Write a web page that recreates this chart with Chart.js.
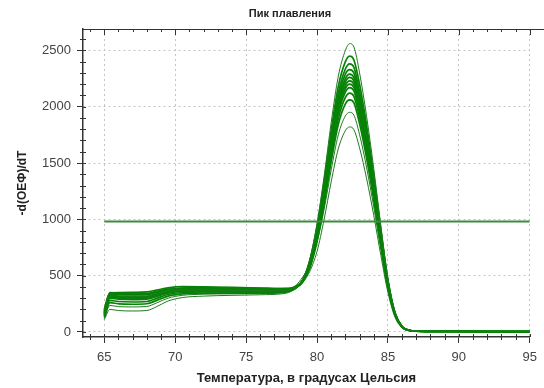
<!DOCTYPE html>
<html>
<head>
<meta charset="utf-8">
<script src="https://cdn.jsdelivr.net/npm/chart.js@4"></script>
<style>
html,body{margin:0;padding:0;background:#fff;}
#wrap{width:544px;height:388px;}
</style>
</head>
<body>
<div id="wrap"><canvas id="c" width="544" height="388"></canvas></div>
<script>
// ---- data ----
const chartTitle = 'Пик плавления';
const xTitle = 'Температура, в градусах Цельсия';
const yTitle = '-d(ОЕФ)/dT';
const xTickValues = [65, 70, 75, 80, 85, 90, 95];
const yTickValues = [0, 500, 1000, 1500, 2000, 2500];

const temps = [65, 65.4, 66, 67, 68, 68.7, 69.5, 70.5, 72, 74, 76, 77.5, 78, 78.5, 79, 79.5, 80, 80.5, 81, 81.5, 82, 82.3, 82.6, 83, 83.5, 84, 84.5, 85, 85.5, 86, 86.5, 87, 89, 92, 95];

const curve01 = [170, 330, 320, 315, 318, 340, 362, 372, 372, 368, 366, 368, 372, 395, 470, 650, 960, 1380, 1860, 2270, 2500, 2560, 2530, 2300, 1910, 1450, 940, 470, 170, 48, 16, 9, 6, 4, 4];
const curve02 = [200, 350, 345, 340, 342, 360, 378, 385, 382, 378, 374, 372, 376, 398, 465, 640, 940, 1340, 1790, 2180, 2400, 2450, 2415, 2200, 1830, 1390, 910, 460, 170, 48, 15, 9, 6, 4, 3];
const curve03 = [190, 345, 335, 332, 335, 355, 375, 385, 388, 384, 380, 378, 380, 400, 460, 630, 915, 1300, 1745, 2120, 2335, 2380, 2350, 2135, 1780, 1355, 890, 455, 168, 47, 15, 8, 5, 4, 3];
const curve04 = [160, 320, 310, 305, 308, 332, 358, 370, 372, 368, 366, 368, 372, 394, 458, 625, 900, 1275, 1710, 2080, 2290, 2330, 2300, 2090, 1740, 1325, 870, 445, 165, 46, 14, 8, 5, 3, 3];
const curve05 = [180, 335, 330, 328, 330, 352, 375, 390, 395, 392, 388, 384, 384, 402, 456, 620, 885, 1250, 1680, 2045, 2250, 2290, 2260, 2055, 1710, 1300, 855, 438, 163, 46, 15, 8, 5, 3, 3];
const curve06 = [150, 300, 290, 286, 290, 315, 345, 360, 362, 360, 358, 362, 368, 392, 455, 612, 873, 1235, 1657, 2018, 2220, 2260, 2230, 2028, 1687, 1285, 843, 432, 161, 45, 14, 8, 5, 3, 2];
const curve07 = [175, 340, 350, 352, 355, 372, 392, 402, 400, 395, 390, 385, 386, 405, 454, 605, 862, 1220, 1635, 1992, 2190, 2230, 2200, 2002, 1665, 1268, 832, 426, 159, 45, 15, 9, 6, 4, 3];
const curve08 = [140, 280, 270, 266, 270, 298, 332, 350, 355, 354, 352, 356, 364, 390, 452, 600, 851, 1203, 1614, 1966, 2161, 2200, 2171, 1976, 1643, 1252, 822, 420, 157, 44, 14, 8, 5, 3, 2];
const curve09 = [165, 325, 315, 312, 315, 338, 362, 375, 378, 374, 370, 370, 374, 396, 450, 592, 840, 1186, 1590, 1938, 2130, 2170, 2140, 1947, 1620, 1234, 810, 415, 155, 44, 14, 8, 5, 3, 3];
const curve10 = [130, 260, 250, 246, 250, 280, 318, 338, 345, 345, 345, 350, 360, 388, 448, 580, 822, 1160, 1555, 1893, 2082, 2120, 2091, 1903, 1583, 1206, 792, 405, 152, 43, 13, 8, 5, 3, 2];
const curve11 = [155, 310, 300, 296, 300, 325, 352, 368, 370, 366, 362, 364, 370, 394, 445, 570, 800, 1128, 1512, 1841, 2025, 2060, 2034, 1850, 1539, 1172, 770, 395, 148, 42, 13, 8, 5, 3, 2];
const curve12 = [120, 235, 225, 222, 226, 258, 300, 325, 335, 338, 340, 346, 360, 410, 490, 600, 800, 1090, 1440, 1750, 1918, 1950, 1925, 1752, 1457, 1110, 730, 375, 140, 40, 13, 8, 5, 3, 2];
const curve13 = [110, 200, 190, 186, 190, 225, 275, 305, 318, 325, 330, 338, 350, 385, 440, 540, 715, 1000, 1335, 1626, 1788, 1820, 1796, 1634, 1359, 1035, 680, 350, 130, 38, 12, 7, 5, 3, 2];

const thresholdTemps = [65, 95];
const thresholdLevel = [980, 980];

// ---- build datasets ----
const curves = [curve01, curve02, curve03, curve04, curve05, curve06, curve07, curve08, curve09, curve10, curve11, curve12, curve13];
const datasets = [{
  data: thresholdTemps.map((t, i) => ({x: t, y: thresholdLevel[i]})),
  borderColor: '#3f8a3f',
  borderWidth: 2,
  pointRadius: 0,
  showLine: true,
  order: 0
}];
curves.forEach((vals, k) => {
  const outer = (k === 0 || k >= 11);
  datasets.push({
    data: temps.map((t, i) => ({x: t, y: vals[i]})),
    borderColor: outer ? '#1e7a1e' : '#078207',
    borderWidth: outer ? 1 : 1.7,
    pointRadius: 0,
    showLine: true,
    cubicInterpolationMode: 'monotone',
    order: 1
  });
});

const extras = {
  id: 'extras',
  afterDraw(chart) {
    const ctx = chart.ctx;
    const a = chart.chartArea;
    const xs = chart.scales.x, ys = chart.scales.y;
    ctx.save();
    ctx.strokeStyle = '#333';
    ctx.lineWidth = 1;
    // top frame line
    ctx.beginPath();
    ctx.moveTo(a.left, a.top + 0.5);
    ctx.lineTo(chart.width, a.top + 0.5);
    ctx.stroke();
    // minor ticks
    ctx.beginPath();
    for (let v = 64; v <= 95; v++) {
      const px = Math.round(xs.getPixelForValue(v)) + 0.5;
      const major = xTickValues.includes(v);
      ctx.moveTo(px, a.bottom - 3);
      ctx.lineTo(px, a.bottom + (major ? 0 : 3));
      ctx.moveTo(px, a.top);
      ctx.lineTo(px, a.top + (major ? 6 : 3));
    }
    for (let v = 0; v <= 2600; v += 100) {
      const py = Math.round(ys.getPixelForValue(v)) + 0.5;
      const major = yTickValues.includes(v);
      ctx.moveTo(a.left - (major ? 0 : 3), py);
      ctx.lineTo(a.left + 3, py);
    }
    ctx.stroke();
    // chart title
    ctx.fillStyle = '#222';
    ctx.font = 'bold 11px "Liberation Sans", Arial, sans-serif';
    ctx.textAlign = 'center';
    ctx.textBaseline = 'middle';
    ctx.fillText(chartTitle, 290, 14);
    ctx.restore();
  }
};

new Chart(document.getElementById('c'), {
  type: 'scatter',
  data: {datasets},
  options: {
    responsive: false,
    animation: false,
    layout: {padding: {top: 29, right: 11, left: 0, bottom: 0}},
    plugins: {legend: {display: false}, tooltip: {enabled: false}, title: {display: false}},
    scales: {
      x: {
        type: 'linear',
        min: 63.5,
        max: 95,
        afterFit(s) { s.height = 51; },
        afterBuildTicks(s) { s.ticks = xTickValues.map(v => ({value: v})); },
        ticks: {
          includeBounds: false,
          padding: 7,
          color: '#444',
          font: {family: '"Liberation Sans", Arial, sans-serif', size: 13},
          maxRotation: 0,
          callback: v => String(v)
        },
        grid: {color: '#c4c4c4', tickLength: 6, tickColor: '#333', tickWidth: 1},
        border: {color: '#333', width: 1.5, dash: [2, 3]},
        title: {
          display: true, text: xTitle, color: '#222',
          font: {family: '"Liberation Sans", Arial, sans-serif', size: 13, weight: 'bold'},
          padding: {top: 0, bottom: 2}
        }
      },
      y: {
        type: 'linear',
        min: -45,
        max: 2690,
        afterFit(s) { s.width = 83; },
        afterBuildTicks(s) { s.ticks = yTickValues.map(v => ({value: v})); },
        ticks: {
          includeBounds: false,
          padding: 6,
          color: '#444',
          font: {family: '"Liberation Sans", Arial, sans-serif', size: 13},
          callback: v => String(v)
        },
        grid: {color: '#c4c4c4', tickLength: 6, tickColor: '#333', tickWidth: 1},
        border: {color: '#333', width: 1.5, dash: [2, 3]},
        title: {
          display: true, text: yTitle, color: '#222',
          font: {family: '"Liberation Sans", Arial, sans-serif', size: 12, weight: 'bold'},
          padding: {top: 15, bottom: 0}
        }
      }
    }
  },
  plugins: [extras]
});
</script>
</body>
</html>
